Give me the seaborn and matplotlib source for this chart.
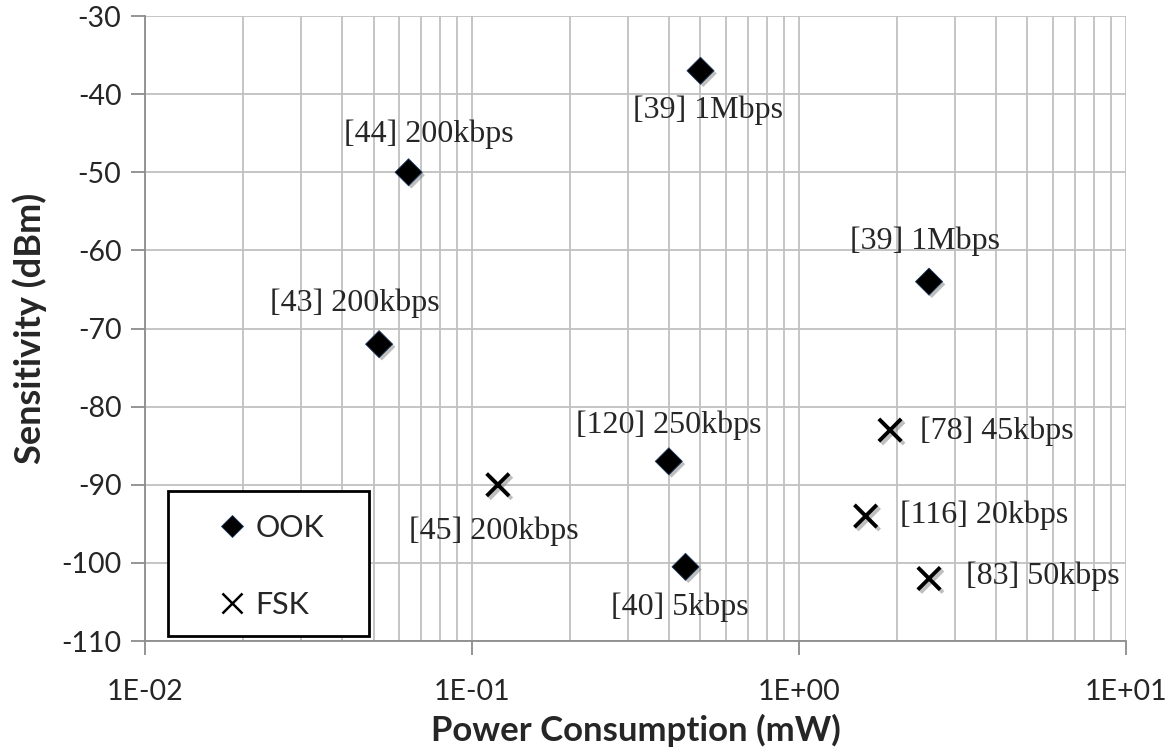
import pandas as pd
import matplotlib as mpl
import matplotlib.pyplot as plt
import matplotlib.patheffects as pe
from matplotlib.lines import Line2D
from matplotlib.patches import Rectangle
import seaborn as sns
import numpy as np
mpl.use('agg')

# data
labels = ['[44] 200kbps', '[39] 1Mbps', '[39] 1Mbps', '[43] 200kbps', '[120] 250kbps', '[40] 5kbps',
          '[45] 200kbps', '[78] 45kbps', '[116] 20kbps', '[83] 50kbps']
power = [0.064, 0.50, 2.5, 0.052, 0.40, 0.45, 0.12, 1.9, 1.6, 2.5]
sens = [-50, -37, -64, -72, -87, -100.5, -90, -83, -94, -102]
mod = ['OOK'] * 6 + ['FSK'] * 4

df = pd.DataFrame({'label': labels, 'power': power, 'sens': sens, 'mod': mod})

# label offsets in pixels (dx, dy, ha)
offsets = [(20, 38, 'center'), (8, -40, 'center'), (-4, 40, 'center'), (-24, 41, 'center'),
           (0, 36, 'center'), (-6, -40, 'center'), (-4, -46, 'center'),
           (30, -1, 'left'), (34, 1, 'left'), (37, 2, 'left')]

sns.set_style('white')
plt.rcParams['font.family'] = ['Lato', 'DejaVu Sans']
plt.rcParams['axes.unicode_minus'] = False

fig = plt.figure(figsize=(11.74, 7.53), dpi=100)
ax = fig.add_axes([0.1235, 0.1487, 0.8355, 0.830])

shadow_f = [pe.SimplePatchShadow(offset=(2, -2), shadow_rgbFace='gray', alpha=0.5), pe.Normal()]
shadow_l = [pe.SimpleLineShadow(offset=(2, -2), shadow_color='gray', alpha=0.5), pe.Normal()]

ook = df[df['mod'] == 'OOK']
fsk = df[df['mod'] == 'FSK']
sns.scatterplot(data=ook, x='power', y='sens', marker='D', color='black', s=190,
                edgecolor='#1f3a60', linewidth=0.6, ax=ax, zorder=5, legend=False)
sns.scatterplot(data=fsk, x='power', y='sens', marker='x', color='black', s=260,
                linewidth=2.8, ax=ax, zorder=5, legend=False)
ax.collections[0].set_path_effects(shadow_f)
ax.collections[1].set_path_effects(shadow_l)

for (_, r), (dx, dy, ha) in zip(df.iterrows(), offsets):
    ax.annotate(r['label'], (r['power'], r['sens']), xytext=(dx, dy), textcoords='offset pixels',
                ha=ha, va='center', fontsize=23, family=['Liberation Serif'], zorder=6)

ax.set_xscale('log')
ax.set_xlim(0.01, 10)
ax.set_ylim(-110, -30)
ax.set_yticks(np.arange(-110, -29, 10))
ax.set_xticks([0.01, 0.1, 1, 10])
ax.set_xticklabels(['1E-02', '1E-01', '1E+00', '1E+01'])
ax.xaxis.set_minor_locator(mpl.ticker.LogLocator(base=10, subs=np.arange(2, 10)))
ax.xaxis.set_minor_formatter(mpl.ticker.NullFormatter())
ax.grid(True, which='major', color='#c0c0c0', lw=1.3)
ax.grid(True, which='minor', axis='x', color='#c0c0c0', lw=1.3)
ax.set_axisbelow(True)
for s in ['top', 'right']:
    ax.spines[s].set_visible(False)
for s in ['left', 'bottom']:
    ax.spines[s].set_color('#8c8c8c')
    ax.spines[s].set_linewidth(1.3)
ax.tick_params(axis='both', which='major', direction='out', length=10, width=1.3, color='#8c8c8c',
               labelsize=20.5, pad=7, bottom=True, left=True)
ax.tick_params(axis='x', which='minor', length=0)
ax.tick_params(axis='x', pad=17)

ax.set_xlabel('Power Consumption (mW)', fontsize=25, fontweight='bold', labelpad=7)
ax.set_ylabel('Sensitivity (dBm)', fontsize=26, fontweight='bold', labelpad=10)

# legend box drawn as its own frame
ax.add_patch(Rectangle((0.0234, 0.008), 0.205, 0.232, transform=ax.transAxes, fill=True,
                       facecolor='white', edgecolor='black', lw=2, zorder=7))
handles = [Line2D([], [], marker='D', color='black', ls='none', markersize=11,
                  markeredgecolor='#1f3a60', markeredgewidth=0.6),
           Line2D([], [], marker='x', color='black', ls='none', markersize=15, markeredgewidth=1.8)]
leg = ax.legend(handles, ['OOK', 'FSK'], loc='upper left', bbox_to_anchor=(0.0734, 0.2030),
                frameon=False, fontsize=22, labelspacing=1.6, borderpad=0, borderaxespad=0,
                handlelength=1.0, handletextpad=0.25)
leg.set_zorder(8)

plt.savefig('out.png', dpi=100)
